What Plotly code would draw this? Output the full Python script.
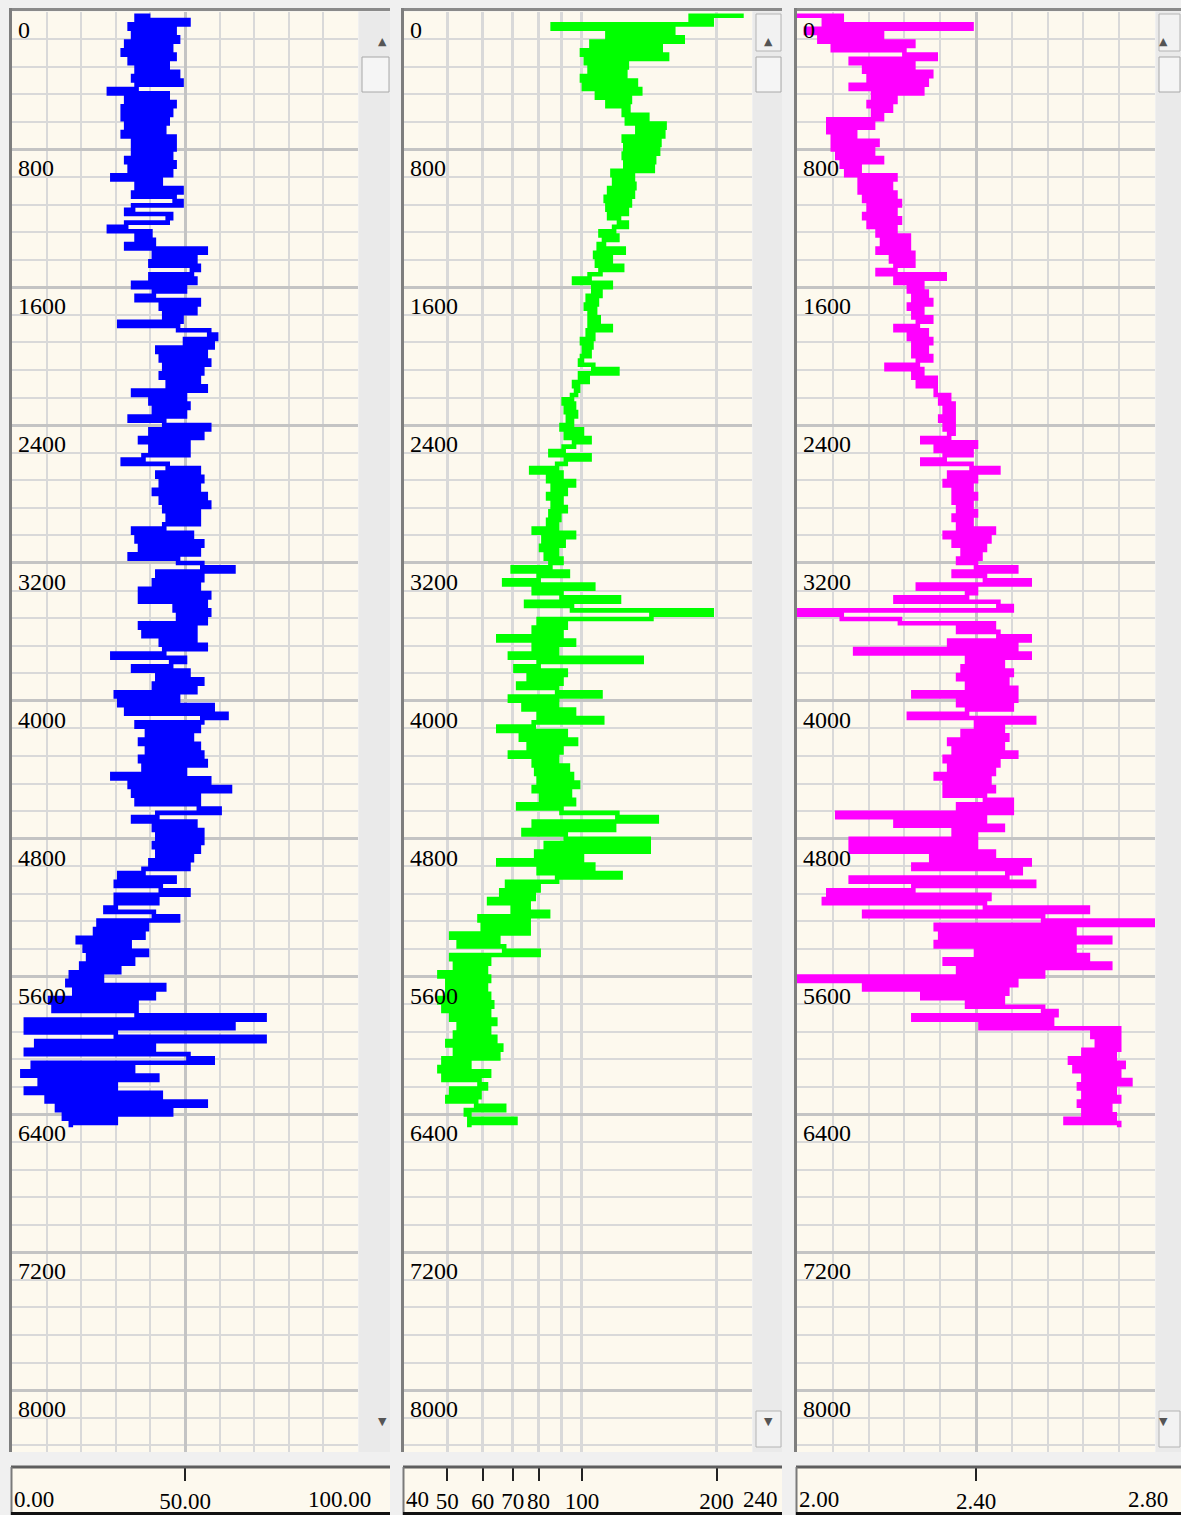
import math
import plotly.graph_objects as go

# ---- log data (one sample every 25 depth units, first at 25) ----
depth_step = 25

gr = [40, 36, 51, 34, 47, 35, 48, 33,
      46, 32, 47, 34, 45, 36, 48, 35,
      49, 36, 28, 45, 33, 47, 32, 46,
      32, 45, 33, 44, 32, 47, 35, 47,
      35, 46, 33, 47, 34, 46, 29, 43,
      36, 49, 35, 47, 49, 35, 33, 46,
      45, 33, 28, 40, 36, 41, 33, 56,
      41, 53, 40, 54, 52, 40, 53, 35,
      50, 41, 36, 54, 43, 53, 44, 49,
      31, 48, 57, 59, 50, 58, 42, 56,
      43, 57, 44, 55, 43, 54, 45, 56,
      35, 50, 40, 51, 41, 50, 34, 44,
      57, 40, 55, 37, 51, 40, 51, 38,
      32, 45, 54, 42, 55, 43, 54, 41,
      56, 43, 57, 44, 54, 45, 54, 44,
      35, 52, 36, 55, 37, 54, 34, 48,
      55, 64, 42, 55, 41, 54, 37, 57,
      37, 56, 47, 57, 48, 56, 37, 53,
      38, 53, 43, 56, 44, 29, 50, 46,
      35, 51, 42, 55, 41, 53, 30, 48,
      31, 58, 33, 62, 55, 36, 54, 39,
      52, 37, 54, 39, 55, 37, 56, 38,
      50, 29, 57, 34, 63, 35, 54, 36,
      54, 60, 42, 35, 53, 41, 55, 42,
      55, 41, 54, 42, 52, 40, 51, 38,
      31, 47, 30, 43, 51, 30, 42, 30,
      27, 41, 48, 25, 39, 24, 38, 19,
      34, 21, 39, 22, 35, 20, 31, 17,
      26, 16, 44, 18, 41, 11, 36, 12,
      36, 73, 4, 64, 4, 30, 73, 7,
      41, 4, 51, 58, 6, 35, 3, 42,
      8, 30, 4, 43, 10, 56, 13, 46,
      15, 30, 17]

ac = [230, 175, 195, 86, 160, 114, 168, 105,
      150, 100, 155, 102, 126, 104, 125, 100,
      132, 101, 135, 108, 128, 114, 127, 124,
      140, 126, 153, 133, 152, 124, 149, 125,
      148, 124, 145, 125, 144, 117, 130, 118,
      131, 115, 130, 113, 128, 114, 126, 115,
      121, 126, 118, 110, 120, 112, 109, 124,
      107, 116, 108, 123, 110, 104, 96, 116,
      106, 110, 103, 108, 102, 107, 104, 109,
      104, 116, 103, 106, 100, 105, 101, 104,
      100, 99, 106, 120, 99, 103, 96, 98,
      97, 95, 91, 96, 92, 97, 93, 95,
      90, 100, 92, 104, 96, 91, 85, 104,
      92, 88, 77, 90, 84, 96, 86, 92,
      84, 90, 86, 92, 85, 89, 84, 88,
      78, 96, 82, 91, 81, 88, 83, 90,
      85, 70, 93, 80, 67, 106, 78, 90,
      121, 75, 95, 195, 143, 80, 92, 78,
      90, 65, 96, 78, 88, 69, 136, 80,
      71, 92, 76, 90, 72, 88, 110, 69,
      88, 74, 96, 80, 111, 78, 65, 92,
      73, 97, 76, 90, 69, 88, 78, 93,
      79, 95, 80, 98, 78, 94, 81, 96,
      72, 90, 120, 147, 78, 118, 74, 92,
      141, 83, 141, 79, 100, 65, 106, 80,
      122, 88, 68, 80, 66, 78, 62, 76,
      70, 84, 59, 76, 60, 76, 51, 65,
      53, 67, 80, 51, 62, 52, 61, 48,
      62, 50, 61, 50, 62, 48, 63, 49,
      62, 51, 64, 53, 62, 52, 64, 50,
      66, 52, 65, 49, 56, 48, 62, 49,
      59, 61, 51, 59, 50, 58, 67, 55,
      56, 71, 56]

den = [2.00, 2.10, 2.06, 2.39, 2.02, 2.19, 2.05, 2.26,
       2.08, 2.24, 2.31, 2.12, 2.26, 2.15, 2.30, 2.16,
       2.29, 2.12, 2.28, 2.17, 2.22, 2.16, 2.21, 2.17,
       2.19, 2.07, 2.17, 2.07, 2.13, 2.08, 2.18, 2.08,
       2.17, 2.09, 2.19, 2.10, 2.14, 2.11, 2.22, 2.14,
       2.21, 2.14, 2.22, 2.15, 2.23, 2.16, 2.22, 2.15,
       2.23, 2.16, 2.22, 2.18, 2.25, 2.19, 2.25, 2.18,
       2.26, 2.21, 2.26, 2.22, 2.18, 2.33, 2.22, 2.28,
       2.25, 2.29, 2.26, 2.30, 2.25, 2.28, 2.26, 2.30,
       2.27, 2.22, 2.29, 2.25, 2.30, 2.26, 2.29, 2.26,
       2.30, 2.27, 2.20, 2.28, 2.26, 2.31, 2.27, 2.31,
       2.31, 2.34, 2.32, 2.35, 2.33, 2.35, 2.32, 2.35,
       2.33, 2.35, 2.34, 2.28, 2.40, 2.31, 2.39, 2.33,
       2.28, 2.39, 2.45, 2.34, 2.40, 2.33, 2.39, 2.35,
       2.40, 2.35, 2.39, 2.36, 2.40, 2.35, 2.39, 2.36,
       2.44, 2.33, 2.43, 2.35, 2.42, 2.37, 2.41, 2.36,
       2.40, 2.49, 2.35, 2.42, 2.52, 2.27, 2.40, 2.38,
       2.22, 2.45, 2.48, 2.00, 2.10, 2.23, 2.44, 2.36,
       2.45, 2.52, 2.34, 2.49, 2.13, 2.52, 2.38, 2.46,
       2.37, 2.48, 2.36, 2.47, 2.38, 2.49, 2.26, 2.49,
       2.36, 2.48, 2.38, 2.25, 2.53, 2.40, 2.46, 2.37,
       2.47, 2.34, 2.46, 2.35, 2.49, 2.33, 2.45, 2.34,
       2.44, 2.31, 2.43, 2.33, 2.44, 2.33, 2.42, 2.48,
       2.36, 2.48, 2.09, 2.42, 2.22, 2.46, 2.35, 2.40,
       2.12, 2.40, 2.12, 2.44, 2.30, 2.52, 2.26, 2.50,
       2.47, 2.12, 2.53, 2.26, 2.07, 2.43, 2.06, 2.42,
       2.65, 2.15, 2.55, 2.80, 2.31, 2.62, 2.32, 2.70,
       2.31, 2.62, 2.40, 2.65, 2.33, 2.70, 2.36, 2.55,
       2.00, 2.49, 2.15, 2.47, 2.28, 2.46, 2.38, 2.55,
       2.58, 2.26, 2.57, 2.41, 2.72, 2.66, 2.72, 2.67,
       2.72, 2.64, 2.71, 2.61, 2.73, 2.62, 2.72, 2.64,
       2.745, 2.63, 2.71, 2.64, 2.72, 2.63, 2.70, 2.64,
       2.71, 2.60, 2.72]

depth_ticks = [0, 800, 1600, 2400, 3200, 4000, 4800, 5600, 6400, 7200, 8000]
depth_range = [8359, 0]

gr_range = [0, 100]
gr_ticks = [50]
gr_ticklabels = ["50.00"]
gr_ends = ["0.00", "100.00"]

ac_range = [40, 240]
ac_ticks = [50, 60, 70, 80, 100, 200]
ac_ticklabels = ["50", "60", "70", "80", "100", "200"]
ac_gridvals = [50, 60, 70, 80, 90, 100, 200]
ac_ends = ["40", "240"]

den_range = [2.0, 2.8]
den_ticks = [2.4]
den_ticklabels = ["2.40"]
den_ends = ["2.00", "2.80"]

W, H = 1181, 1515
CREAM = "#fdf9ee"
GRID = "#d9d9d9"
GRID_MAJOR = "#c4c4c4"
FONT = "Liberation Serif, Times New Roman, serif"
TICKFONT = dict(family=FONT, size=24, color="black")
SCALEFONT = dict(family=FONT, size=23, color="black")


def fx(x):
    return x / W


def fy(y):
    return 1 - y / H


def depths(vals):
    return [depth_step * (i + 1) for i in range(len(vals))]


panels = [
    dict(vals=gr, color="#0000ff", plot=(12, 358), sb=(359, 390), box=(11, 390),
         rng=gr_range, log=False, ticks=gr_ticks, labels=gr_ticklabels, ends=gr_ends,
         grid=dict(tick0=0, dtick=50), minor=dict(tick0=0, dtick=10),
         rshift=15, buttons=False),
    dict(vals=ac, color="#00ff00", plot=(404, 752), sb=(753, 782), box=(403, 782),
         rng=ac_range, log=True, ticks=ac_ticks, labels=ac_ticklabels, ends=ac_ends,
         grid=dict(tickmode="array", tickvals=ac_gridvals), minor=None,
         rshift=28, buttons=True),
    dict(vals=den, color="#ff00ff", plot=(797, 1155), sb=(1156, 1181), box=(796, 1181),
         rng=den_range, log=False, ticks=den_ticks, labels=den_ticklabels, ends=den_ends,
         grid=dict(tick0=2.4, dtick=0.4), minor=dict(tick0=2.0, dtick=0.08),
         rshift=15, buttons=True),
]

PLOT_TOP, PLOT_BOT = 11.5, 1452
BOX_TOP = 1467

fig = go.Figure()
shapes = []
annotations = []
layout = dict(
    width=W, height=H,
    margin=dict(l=0, r=0, t=0, b=0, pad=0),
    paper_bgcolor="#f0f0f0",
    plot_bgcolor=CREAM,
    showlegend=False,
    yaxis4=dict(domain=[fy(BOX_TOP), fy(BOX_TOP - 1)], range=[0, 1], visible=False,
                anchor="x4", automargin=False),
)

for i, p in enumerate(panels):
    n = i + 1
    xa = "x" if n == 1 else f"x{n}"
    ya = "y" if n == 1 else f"y{n}"
    xb = f"x{n + 3}"
    rng = [math.log10(v) for v in p["rng"]] if p["log"] else p["rng"]

    fig.add_trace(go.Scatter(
        x=p["vals"], y=depths(p["vals"]), mode="lines",
        line=dict(color=p["color"], width=4.6, shape="hv"),
        xaxis=xa, yaxis=ya, hoverinfo="skip"))
    fig.add_trace(go.Scatter(x=[None], y=[None], xaxis=xb, yaxis="y4",
                             hoverinfo="skip"))

    xaxis = dict(
        domain=[fx(p["plot"][0]), fx(p["plot"][1])], range=rng,
        type="log" if p["log"] else "linear", anchor=ya,
        showticklabels=False, ticks="",
        showgrid=True, gridcolor=GRID_MAJOR if p["minor"] else GRID, gridwidth=2.5,
        zeroline=False, showline=False, automargin=False, **p["grid"])
    if p["minor"]:
        xaxis["minor"] = dict(showgrid=True, gridcolor=GRID, gridwidth=2, ticks="",
                              **p["minor"])
    layout["xaxis" if n == 1 else f"xaxis{n}"] = xaxis
    layout["yaxis" if n == 1 else f"yaxis{n}"] = dict(
        domain=[fy(PLOT_BOT), fy(PLOT_TOP)], range=depth_range, anchor=xa,
        tick0=0, dtick=800, showticklabels=False, ticks="",
        showgrid=True, gridcolor=GRID_MAJOR, gridwidth=3,
        minor=dict(tick0=0, dtick=160, showgrid=True, gridcolor=GRID, gridwidth=2),
        zeroline=False, showline=False, automargin=False)

    # depth labels, written just under each major grid line
    for d in depth_ticks:
        annotations.append(dict(text=str(d), x=fx(p["plot"][0] + 4), xref="paper",
                                xanchor="left", y=d, yref=ya, yanchor="middle",
                                yshift=-19, showarrow=False, font=TICKFONT))

    # bottom scale box
    layout[f"xaxis{n + 3}"] = dict(
        domain=[fx(p["plot"][0]), fx(p["plot"][1])], range=rng,
        type="log" if p["log"] else "linear", anchor="y4", side="bottom",
        tickmode="array", tickvals=p["ticks"], ticktext=p["labels"], tickangle=0,
        ticks="outside", ticklen=13, tickwidth=2, tickcolor="#222",
        tickfont=SCALEFONT, showgrid=False, zeroline=False, showline=False,
        automargin=False)
    annotations.append(dict(text=p["ends"][0], x=rng[0], xref=xb, xanchor="left",
                            y=fy(1499), yref="paper", yanchor="middle",
                            showarrow=False, font=SCALEFONT))
    annotations.append(dict(text=p["ends"][1], x=rng[1], xref=xb, xanchor="right",
                            xshift=p["rshift"], y=fy(1499), yref="paper",
                            yanchor="middle", showarrow=False, font=SCALEFONT))

    bl, br = p["box"]
    shapes.append(dict(type="rect", xref="paper", yref="paper", layer="below",
                       x0=fx(bl), x1=fx(br), y0=fy(H), y1=fy(BOX_TOP),
                       fillcolor=CREAM, line_width=0))
    shapes.append(dict(type="line", xref="paper", yref="paper",
                       x0=fx(bl), x1=fx(br), y0=fy(BOX_TOP), y1=fy(BOX_TOP),
                       line=dict(color="#5e5e5e", width=3)))
    shapes.append(dict(type="line", xref="paper", yref="paper",
                       x0=fx(bl + 0.5), x1=fx(bl + 0.5), y0=fy(H), y1=fy(BOX_TOP),
                       line=dict(color="#7a7a7a", width=2)))
    shapes.append(dict(type="line", xref="paper", yref="paper",
                       x0=fx(bl), x1=fx(br), y0=fy(1513.5), y1=fy(1513.5),
                       line=dict(color="#111", width=3)))

    # scroll bar
    s0, s1 = p["sb"]
    shapes.append(dict(type="rect", xref="paper", yref="paper", layer="below",
                       x0=fx(s0), x1=fx(s1), y0=fy(PLOT_BOT), y1=fy(PLOT_TOP),
                       fillcolor="#eaeaea", line_width=0))
    shapes.append(dict(type="rect", xref="paper", yref="paper",
                       x0=fx(s0 + 3), x1=fx(s1 - 1), y0=fy(92), y1=fy(57),
                       fillcolor="#f5f5f5", line=dict(color="#a8a8a8", width=1)))
    if p["buttons"]:
        for y0, y1 in ((51, 14), (1447, 1411)):
            shapes.append(dict(type="rect", xref="paper", yref="paper",
                               x0=fx(s0 + 3), x1=fx(s1 - 1), y0=fy(y0), y1=fy(y1),
                               fillcolor="#f2f2f2", line=dict(color="#b4b4b4", width=1)))
    ax = fx((s0 + 3 + s1 - 1) / 2)
    for sym, yy in (("▲", 33), ("▼", 1430)):
        annotations.append(dict(text=sym, x=ax, xref="paper", y=fy(yy), yref="paper",
                                showarrow=False,
                                font=dict(family="DejaVu Sans", size=11, color="#555")))

    # sunken frame on top and left of the track
    pl = p["plot"][0]
    shapes.append(dict(type="line", xref="paper", yref="paper",
                       x0=fx(pl - 3), x1=fx(s1), y0=fy(9.5), y1=fy(9.5),
                       line=dict(color="#8a8a8a", width=3)))
    shapes.append(dict(type="line", xref="paper", yref="paper",
                       x0=fx(pl - 1.5), x1=fx(pl - 1.5), y0=fy(PLOT_BOT), y1=fy(8),
                       line=dict(color="#7e7e7e", width=3)))

layout["shapes"] = shapes
layout["annotations"] = annotations
fig.update_layout(**layout)

fig.write_html("out.html", config={"displayModeBar": False},
               post_script="document.body.style.margin='0';")
